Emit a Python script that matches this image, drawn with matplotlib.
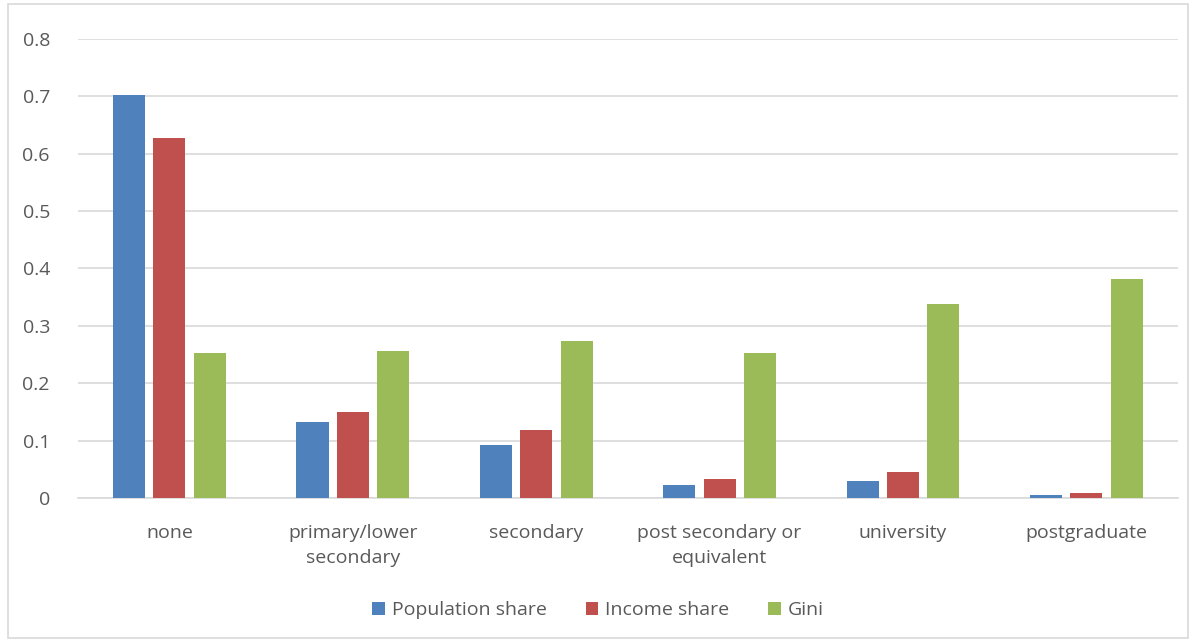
import matplotlib
matplotlib.use("Agg")
import matplotlib.pyplot as plt
import numpy as np

categories = ["none", "primary/lower\nsecondary", "secondary", "post secondary or\nequivalent",
              "university", "postgraduate"]
population_share = [0.702, 0.132, 0.092, 0.023, 0.030, 0.005]
income_share = [0.627, 0.150, 0.118, 0.033, 0.045, 0.009]
gini = [0.253, 0.256, 0.274, 0.253, 0.338, 0.382]

plt.rcParams['font.family'] = ['Open Sans', 'DejaVu Sans']
txt = '#595959'

fig = plt.figure(figsize=(11.96, 6.42), dpi=100)
ax = fig.add_axes([0.065, 0.2243, 0.92, 0.7150])

x = np.arange(len(categories))
w = 0.175
step = 0.22
ax.bar(x - step, population_share, w, color='#4f81bd', label='Population share', zorder=3)
ax.bar(x, income_share, w, color='#c0504d', label='Income share', zorder=3)
ax.bar(x + step, gini, w, color='#9bbb59', label='Gini', zorder=3)

ax.set_xlim(-0.5, len(categories) - 0.5)
ax.set_ylim(0, 0.8)
ax.set_yticks(np.arange(0, 0.81, 0.1))
ax.set_yticklabels(["0"] + ["%.1f" % v for v in np.arange(0.1, 0.81, 0.1)])
ax.set_xticks(x)
ax.set_xticklabels(categories, color=txt, fontsize=14, linespacing=1.45)
ax.tick_params(axis='y', colors=txt, labelsize=14, length=0, pad=20)
ax.tick_params(axis='x', length=0, pad=19)
ax.grid(axis='y', color='#d9d9d9', linewidth=1.2, zorder=0)
for s in ['top', 'right', 'left']:
    ax.spines[s].set_visible(False)
ax.spines['bottom'].set_color('#d9d9d9')
ax.spines['bottom'].set_linewidth(1.2)

leg = fig.legend(loc='center', bbox_to_anchor=(0.5, 0.05), ncol=3, frameon=False,
                 fontsize=14, handlelength=0.65, handleheight=0.65, columnspacing=2.0,
                 handletextpad=0.35)
for t in leg.get_texts():
    t.set_color(txt)

# outer border
fig.patches.append(plt.Rectangle((0.007, 0.007), 0.986, 0.986, transform=fig.transFigure,
                                 fill=False, edgecolor='#d9d9d9', linewidth=1.2))

fig.savefig("out.png", dpi=100, facecolor='white')
